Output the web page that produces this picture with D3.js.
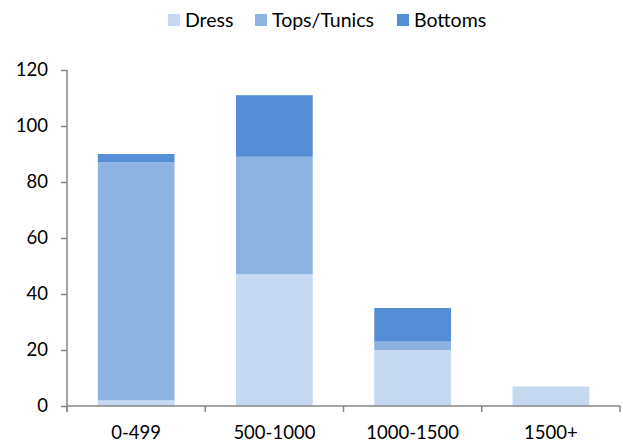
<!DOCTYPE html>
<html>
<head>
<meta charset="utf-8">
<script src="https://cdn.jsdelivr.net/npm/d3@7"></script>
<style>
  body { margin: 0; background: #fff; }
  svg text { font-family: Lato, "Open Sans", sans-serif; fill: #000; }
</style>
</head>
<body>
<svg id="chart" width="623" height="443"></svg>
<script>
// Price bands and item counts per garment type
const categories = ["0-499", "500-1000", "1000-1500", "1500+"];
const seriesNames = ["Dress", "Tops/Tunics", "Bottoms"];
const dress = [2, 47, 20, 7];
const topsTunics = [85, 42, 3, 0];
const bottoms = [3, 22, 12, 0];
const yTicks = [0, 20, 40, 60, 80, 100, 120];
const colors = ["#C6D9F1", "#8DB3E2", "#558ED5"];

const rows = categories.map((c, i) => ({
  cat: c, "Dress": dress[i], "Tops/Tunics": topsTunics[i], "Bottoms": bottoms[i]
}));
const stacked = d3.stack().keys(seriesNames)(rows);

const svg = d3.select("#chart");
const margin = { left: 67, right: 3, top: 70, bottom: 37 };
const W = 623, H = 443;

const x = d3.scaleBand().domain(categories)
  .range([margin.left, W - margin.right]).paddingInner(0.445).paddingOuter(0.2225);
const y = d3.scaleLinear().domain([0, 120]).range([H - margin.bottom, margin.top]);

// Bars
svg.append("g").selectAll("g").data(stacked).join("g")
  .attr("fill", (d, i) => colors[i])
  .selectAll("rect").data(d => d).join("rect")
  .attr("x", d => x(d.data.cat))
  .attr("width", x.bandwidth())
  .attr("y", d => y(d[1]))
  .attr("height", d => y(d[0]) - y(d[1]));

// Y axis
const yAxis = svg.append("g").attr("transform", `translate(${margin.left},0)`)
  .call(d3.axisLeft(y).tickValues(yTicks).tickSize(6).tickPadding(13));
// X axis
const xEdges = d3.range(categories.length + 1).map(i => margin.left + i * x.step());
const xAxis = svg.append("g").attr("transform", `translate(0,${y(0)})`)
  .call(d3.axisBottom(x).tickSize(0).tickPadding(20));
xAxis.selectAll(".edge").data(xEdges).join("line").attr("class", "edge")
  .attr("x1", d => d).attr("x2", d => d).attr("y1", 0).attr("y2", 6);

[yAxis, xAxis].forEach(a => {
  a.select(".domain").attr("stroke", "#868686").attr("stroke-width", 1.5);
  a.selectAll("line").attr("stroke", "#868686").attr("stroke-width", 1.5);
  a.selectAll("text").attr("font-size", 18.5).attr("font-family", "Lato, 'Open Sans', sans-serif").attr("fill", "#000");
});
xAxis.select(".domain").attr("d", `M${margin.left},0H${W - margin.right}`);
yAxis.select(".domain").attr("d", `M0,${y(120)}V${y(0) + 6}`);

// Legend
const legendX = [168, 255, 397];
const legend = svg.append("g").selectAll("g").data(seriesNames).join("g")
  .attr("transform", (d, i) => `translate(${legendX[i]},14)`);
legend.append("rect").attr("width", 12).attr("height", 12).attr("fill", (d, i) => colors[i]);
legend.append("text").attr("x", 17).attr("y", 6).attr("dy", "0.35em")
  .attr("font-size", 19.5).text(d => d);
</script>
</body>
</html>
